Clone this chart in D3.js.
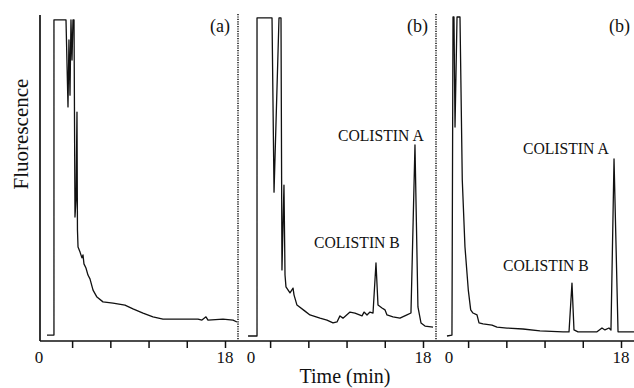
<!DOCTYPE html>
<html>
<head>
<meta charset="utf-8">
<script src="https://cdnjs.cloudflare.com/ajax/libs/d3/7.8.5/d3.min.js"></script>
<style>
  body { margin: 0; background: #fff; }
  svg text { font-family: "Liberation Serif", "Times New Roman", serif; fill: #111; }
  .trace { fill: none; stroke: #111; stroke-width: 1.3; stroke-linejoin: round; }
  .axis-line { stroke: #111; stroke-width: 1.7; }
  .sep { stroke: #111; stroke-width: 1.5; stroke-dasharray: 1.2,1.2; }
</style>
</head>
<body>
<div id="chart"></div>
<script>
// retention time (min) and fluorescence (% of full scale, clipped at 100)
var timeA = [-0.63, 0.10, 0.10, 1.36, 1.57, 1.67, 1.78, 1.88, 1.99, 2.09, 2.20, 2.30, 2.41, 2.51, 2.56, 2.62,
  2.83, 3.03, 3.14, 3.24, 3.45, 3.66, 3.87, 4.19, 4.60, 5.23, 6.28, 7.53, 8.37, 9.42, 10.46, 11.51,
  12.98, 14.34, 15.17, 15.59, 16.01, 16.22, 17.79, 18.84, 19.25];
var signalA = [0.3, 0.3, 99.1, 99.1, 71.8, 92.8, 75.5, 99.1, 86.5, 99.1, 99.1, 37.3, 42.6, 70.2, 33.2, 27.9,
  26.3, 24.5, 25.4, 22.6, 21.3, 19.1, 17.9, 14.4, 12.2, 10.7, 10.3, 9.7, 8.5, 7.2, 6.0, 5.3,
  5.3, 5.3, 5.3, 5.0, 6.0, 5.0, 5.3, 5.0, 4.4];

var timeB = [-0.31, 0.63, 0.63, 2.20, 2.41, 2.93, 3.14, 3.24, 3.45, 3.56, 3.66, 4.08, 4.40, 4.50, 4.81, 5.65,
  6.17, 7.22, 7.95, 8.58, 9.00, 9.31, 9.63, 10.36, 10.88, 11.62, 11.83, 12.14, 12.45, 12.77, 13.08, 13.29,
  13.71, 14.02, 14.23, 14.86, 15.59, 16.32, 16.74, 17.16, 17.47, 17.79, 18.21, 19.05];
var signalB = [0, 0, 99.7, 99.7, 45.1, 99.7, 99.7, 20.7, 47.3, 19.1, 15.4, 13.5, 15.0, 12.9, 9.7, 7.8,
  6.6, 5.6, 5.0, 4.1, 4.4, 6.3, 5.6, 7.5, 7.2, 6.3, 7.5, 6.6, 7.5, 7.2, 22.9, 9.7,
  8.8, 8.2, 6.6, 6.0, 5.6, 6.6, 7.2, 59.9, 9.1, 4.1, 3.1, 2.8];

var timeC = [-0.21, 0.31, 0.42, 0.52, 0.63, 0.84, 1.15, 1.39, 1.67, 2.02, 2.27, 2.51, 2.93, 3.14, 3.56, 4.50,
  5.02, 6.07, 7.74, 9.52, 11.93, 12.56, 12.87, 13.08, 13.50, 15.49, 16.01, 16.32, 16.74, 16.95, 17.27, 17.69, 19.36];
var signalC = [0, 0.3, 100, 100, 65.5, 100, 100, 48.9, 28.0, 14.4, 8.2, 7.2, 6.6, 4.1, 3.8, 3.4,
  2.8, 2.5, 2.2, 1.6, 1.3, 1.3, 16.6, 1.9, 1.3, 1.3, 2.5, 1.9, 2.5, 1.9, 55.5, 1.3, 1.3];

var tickValues = [2, 6, 10, 14, 18];
var tickLabels = [0, 18];
var panelNames = ["(a)", "(b)", "(b)"];
var peakNames = ["COLISTIN B", "COLISTIN A"];

var width = 634, height = 388;
var axisY = 341, axisX = 40;

// one shared signal scale
var y = d3.scaleLinear().domain([0, 100]).range([336, 17]);

// layout of the three chromatograms side by side
var panels = [
  {time: timeA, signal: signalA, x0: 53, nameX: 230, sepX: 238, zeroAtAxis: true, notes: []},
  {time: timeB, signal: signalB, x0: 251, nameX: 428, sepX: 436,
    notes: [{name: peakNames[0], t: 6.59, s: 27.6}, {name: peakNames[1], t: 9.10, s: 61.0}]},
  {time: timeC, signal: signalC, x0: 449, nameX: 630, sepX: null,
    notes: [{name: peakNames[0], t: 5.65, s: 20.4}, {name: peakNames[1], t: 7.74, s: 57.1}]}
];

var svg = d3.select("#chart").append("svg")
    .attr("width", width)
    .attr("height", height);

// axes frame
svg.append("line").attr("class", "axis-line")
    .attr("x1", axisX).attr("x2", axisX)
    .attr("y1", 15).attr("y2", axisY);
svg.append("line").attr("class", "axis-line")
    .attr("x1", axisX).attr("x2", width)
    .attr("y1", axisY).attr("y2", axisY);

panels.forEach(function(p, i) {
  var x = d3.scaleLinear().domain([0, 18]).range([p.x0, p.x0 + 172]);

  var line = d3.line()
      .x(function(d) { return x(d[0]); })
      .y(function(d) { return y(d[1]); });

  svg.append("path")
      .datum(d3.zip(p.time, p.signal))
      .attr("class", "trace")
      .attr("d", line);

  // ticks under the shared axis line
  svg.append("g")
      .attr("transform", "translate(0," + axisY + ")")
      .attr("color", "#111")
      .call(d3.axisBottom(x).tickValues(tickValues).tickSize(7).tickFormat(""))
      .call(function(g) { g.select(".domain").remove(); })
      .selectAll(".tick line").attr("stroke-width", 1.5);

  svg.selectAll(null)
      .data(tickLabels)
    .enter().append("text")
      .attr("x", function(d) { return (d === 0 && p.zeroAtAxis) ? axisX - 1 : x(d); })
      .attr("y", 363)
      .attr("text-anchor", "middle")
      .style("font-size", "17px")
      .text(function(d) { return d; });

  svg.append("text")
      .attr("x", p.nameX)
      .attr("y", 32)
      .attr("text-anchor", "end")
      .style("font-size", "18px")
      .text(panelNames[i]);

  svg.selectAll(null)
      .data(p.notes)
    .enter().append("text")
      .attr("x", function(d) { return x(d.t); })
      .attr("y", function(d) { return y(d.s); })
      .style("font-size", "15.7px")
      .text(function(d) { return d.name; });

  if (p.sepX !== null) {
    svg.append("line").attr("class", "sep")
        .attr("x1", p.sepX).attr("x2", p.sepX)
        .attr("y1", 14).attr("y2", axisY - 1);
  }
});

svg.append("text")
    .attr("transform", "translate(28,134) rotate(-90)")
    .attr("text-anchor", "middle")
    .style("font-size", "21px")
    .text("Fluorescence");

svg.append("text")
    .attr("x", 345)
    .attr("y", 383)
    .attr("text-anchor", "middle")
    .style("font-size", "20px")
    .text("Time (min)");
</script>
</body>
</html>
